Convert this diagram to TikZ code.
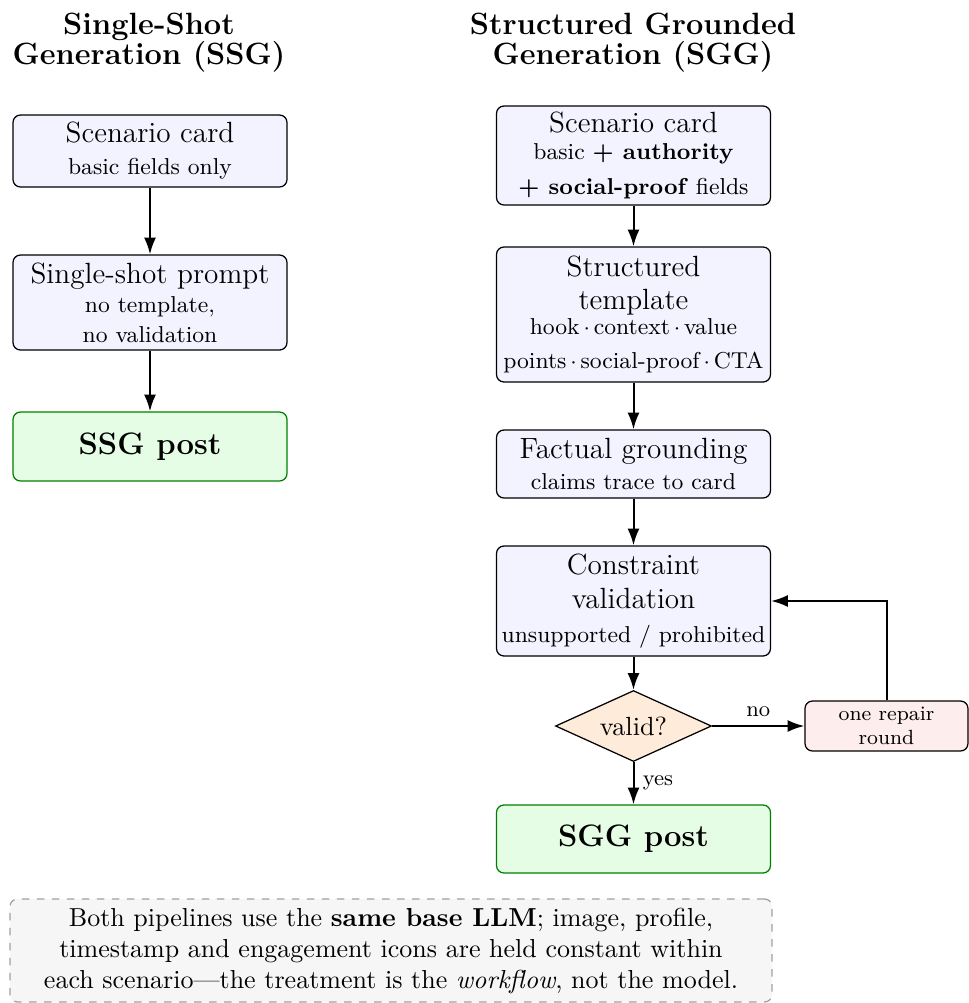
\documentclass[tikz,border=0pt]{standalone}
\usetikzlibrary{shapes.geometric,arrows.meta}
\definecolor{boxfill}{RGB}{243,243,255}
\definecolor{postfill}{RGB}{229,252,229}
\definecolor{postdraw}{RGB}{0,128,0}
\definecolor{decfill}{RGB}{255,235,217}
\definecolor{repfill}{RGB}{253,237,237}
\definecolor{notefill}{RGB}{246,246,246}
\definecolor{notedraw}{RGB}{160,160,160}
\newcommand{\mainf}{\fontsize{11.7}{12.4}\selectfont}
\newcommand{\subf}{\fontsize{9.2}{11}\selectfont}
\tikzset{
  stepbox/.style={draw, rounded corners=3pt, fill=boxfill, line width=0.5pt,
    minimum width=109.6pt, align=center, inner sep=1pt, font=\mainf},
  postbox/.style={draw=postdraw, rounded corners=3pt, fill=postfill, line width=0.5pt,
    minimum width=109.6pt, align=center, font=\fontsize{12.4}{14}\selectfont\bfseries},
  decbox/.style={draw, diamond, fill=decfill, line width=0.5pt, inner sep=0pt,
    minimum width=62.4pt, minimum height=28.4pt, aspect=2.2, font=\fontsize{10.5}{12}\selectfont},
  repbox/.style={draw, rounded corners=3pt, fill=repfill, line width=0.5pt,
    minimum width=65.2pt, minimum height=20pt, align=center, inner sep=1pt,
    font=\fontsize{8.2}{9.4}\selectfont},
  notebox/.style={draw=notedraw, dashed, rounded corners=3pt, fill=notefill, line width=0.5pt,
    minimum width=304.8pt, minimum height=41.2pt, align=center,
    font=\fontsize{10.4}{12.4}\selectfont},
  ttl/.style={align=center, font=\fontsize{12.3}{12}\selectfont\bfseries},
  arr/.style={-{Latex[length=6.7pt,width=4.8pt]}, line width=0.8pt},
  lbl/.style={font=\fontsize{8.8}{10}\selectfont}
}
\begin{document}
\begin{tikzpicture}[x=0.4pt,y=-0.4pt]
\useasboundingbox (0,0) rectangle (969,1003);
% titles
\node[ttl] (tl) at (149,43) {Single-Shot\\Generation (SSG)};
\node[ttl] (tr) at (633,43) {Structured Grounded\\Generation (SGG)};
% left column
\node[stepbox, minimum height=28.8pt] (l1) at (150,151)
  {Scenario card\\[0.4pt]{\subf basic fields only}};
\node[stepbox, minimum height=38pt] (l2) at (150,302.5)
  {Single-shot prompt\\[-0.8pt]{\subf no template,}\\[-0.4pt]{\subf no validation}};
\node[postbox, minimum height=27.6pt] (l3) at (150,446.5) {SSG post};
% right column
\node[stepbox, minimum height=39.6pt] (r1) at (633.5,155.5)
  {Scenario card\\[-1.6pt]{\subf basic \textbf{+ authority}}\\[1.6pt]{\subf\textbf{+ social-proof} fields}};
\node[stepbox, minimum height=54pt] (r2) at (633.5,314.5)
  {Structured\\[0.8pt]template\\[-2.4pt]{\subf hook\,$\cdot$\,context\,$\cdot$\,value}\\[1.2pt]{\subf points\,$\cdot$\,social-proof\,$\cdot$\,CTA}};
\node[stepbox, minimum height=27.2pt] (r3) at (633.5,464)
  {Factual grounding\\{\subf claims trace to card}};
\node[stepbox, minimum height=44pt] (r4) at (633.5,601)
  {Constraint\\[1.2pt]validation\\[1.2pt]{\subf unsupported / prohibited}};
\node[decbox] (dec) at (633.5,726) {valid?};
\node[repbox] (rep) at (886.5,726) {one repair\\round};
\node[postbox, minimum height=27.2pt] (r5) at (633.5,839) {SGG post};
% note
\node[notebox] (note) at (391,950.5)
  {Both pipelines use the \textbf{same base LLM}; image, profile,\\
   timestamp and engagement icons are held constant within\\
   each scenario---the treatment is the \emph{workflow}, not the model.};
% connectors
\draw[arr] (l1) -- (l2);
\draw[arr] (l2) -- (l3);
\draw[arr] (r1) -- (r2);
\draw[arr] (r2) -- (r3);
\draw[arr] (r3) -- (r4);
\draw[arr] (r4.south) -- (dec.north);
\draw[arr] (dec.east) -- node[lbl, above] {no} (rep.west);
\draw[arr] (dec.south) -- node[lbl, right] {yes} (r5.north);
\draw[arr] (rep.north) |- (r4.east);
\end{tikzpicture}
\end{document}
